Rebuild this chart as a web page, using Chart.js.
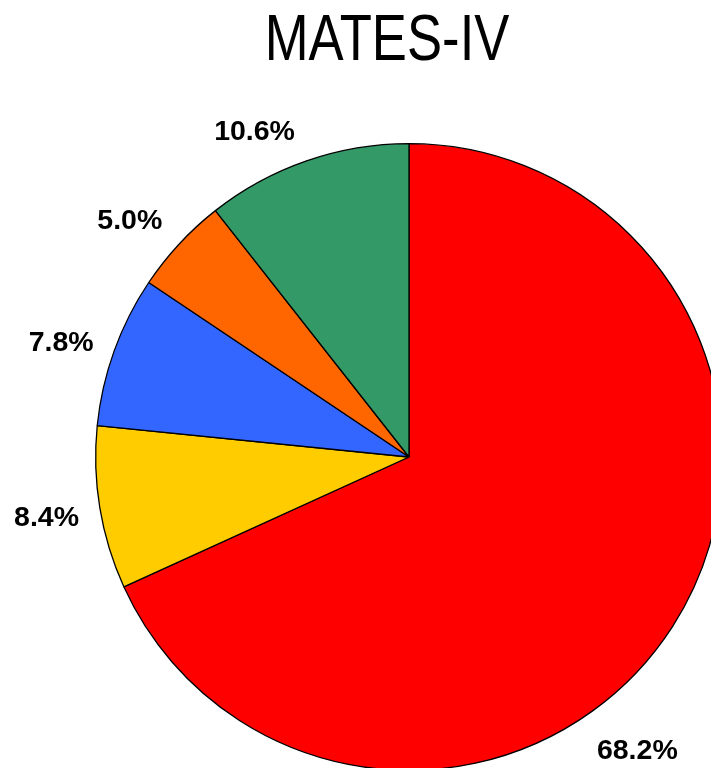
<!DOCTYPE html>
<html>
<head>
<meta charset="utf-8">
<script src="https://cdn.jsdelivr.net/npm/chart.js@4/dist/chart.umd.min.js"></script>
<style>
html,body{margin:0;padding:0;background:#fff;overflow:hidden;width:711px;height:768px;}
#wrap{position:absolute;left:0;top:0;width:818px;height:914px;}
</style>
</head>
<body>
<div id="wrap"><canvas id="c" width="818" height="914"></canvas></div>
<script>
const title = "MATES-IV";
const categories = ["A", "B", "C", "D", "E"];
const values = [68.2, 8.4, 7.8, 5.0, 10.6];
const labels = ["68.2%", "8.4%", "7.8%", "5.0%", "10.6%"];
const colors = ["#FF0000", "#FFCC00", "#3366FF", "#FF6600", "#339966"];
const labelAngleShift = [19.3, 0, -1.5, -2.5, -6.3];
const labelDistExtra = [58, 54, 53, 53, 47];

const labelPlugin = {
  id: 'labelPlugin',
  afterDraw(chart) {
    const ctx = chart.ctx;
    const meta = chart.getDatasetMeta(0);
    ctx.save();
    ctx.fillStyle = '#000';
    ctx.textAlign = 'center';
    ctx.textBaseline = 'middle';
    ctx.font = 'bold 28.5px "Liberation Sans", Arial, sans-serif';
    meta.data.forEach((arc, i) => {
      const p = arc.getProps(['x','y','startAngle','endAngle','outerRadius'], true);
      const mid = (p.startAngle + p.endAngle) / 2 + labelAngleShift[i] * Math.PI / 180;
      const d = p.outerRadius + labelDistExtra[i];
      ctx.fillText(labels[i], p.x + Math.cos(mid) * d, p.y + Math.sin(mid) * d + 1);
    });
    ctx.font = '65px "Liberation Sans", Arial, sans-serif';
    ctx.translate(387, 42);
    ctx.scale(0.81, 1);
    ctx.fillText(title, 0, 0);
    ctx.restore();
  }
};

new Chart(document.getElementById('c'), {
  type: 'pie',
  data: {
    labels: categories,
    datasets: [{
      data: values,
      backgroundColor: colors,
      borderColor: '#000000',
      borderWidth: 1.3
    }]
  },
  options: {
    responsive: false,
    animation: false,
    devicePixelRatio: 1,
    layout: { padding: { left: 95, right: 95, top: 143, bottom: 143 } },
    plugins: { legend: { display: false }, tooltip: { enabled: false } }
  },
  plugins: [labelPlugin]
});
</script>
</body>
</html>
